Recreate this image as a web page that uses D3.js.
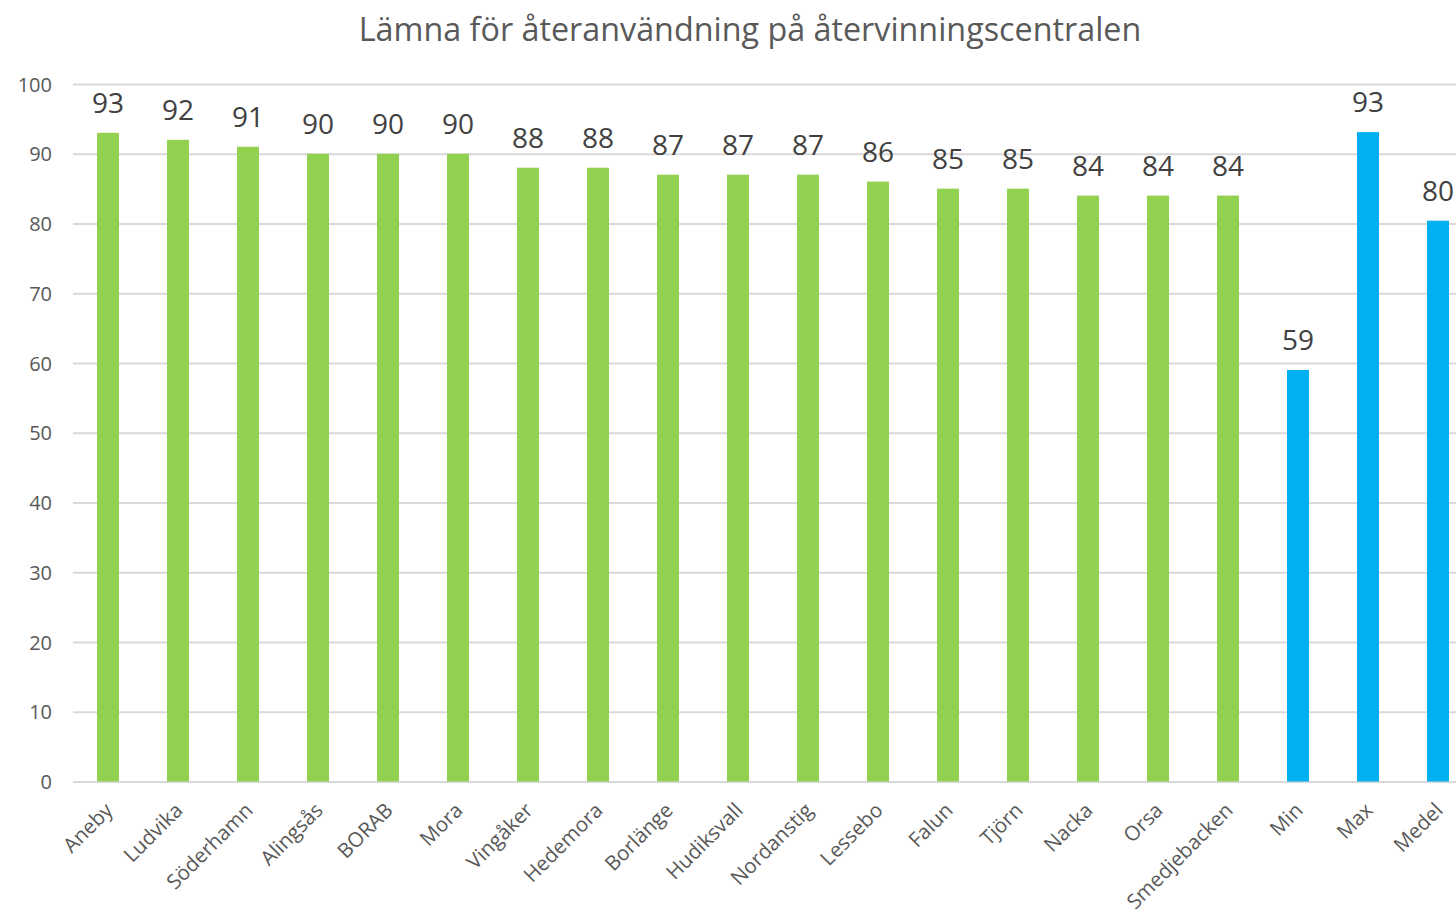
<!DOCTYPE html>
<html>
<head>
<meta charset="utf-8">
<title>Lämna för återanvändning</title>
<style>
  html, body { margin: 0; padding: 0; background: #fff; overflow: hidden; }
  svg { display: block; font-family: "Open Sans", sans-serif; }
  .grid line { stroke: #d9d9d9; stroke-width: 2px; }
  .grid .domain { display: none; }
  .yAxis text, .xAxis text { fill: #595959; font-family: "Open Sans", sans-serif; }
  .yAxis text { font-size: 20px; }
  .xAxis text { font-size: 20.5px; }
  .yAxis line, .yAxis .domain, .xAxis line, .xAxis .domain { display: none; }
  .label { fill: #404040; font-size: 28px; text-anchor: middle; }
  .title { fill: #595959; font-size: 32.3px; text-anchor: middle; }
</style>
<script src="https://cdn.jsdelivr.net/npm/d3@7"></script>
</head>
<body>
<div id="main"></div>
<script>
var categories = ["Aneby", "Ludvika", "Söderhamn", "Alingsås", "BORAB", "Mora", "Vingåker",
  "Hedemora", "Borlänge", "Hudiksvall", "Nordanstig", "Lessebo", "Falun", "Tjörn", "Nacka",
  "Orsa", "Smedjebacken", "Min", "Max", "Medel"];
var values = [93, 92, 91, 90, 90, 90, 88, 88, 87, 87, 87, 86, 85, 85, 84, 84, 84, 59, 93.1, 80.4];
var summaryCats = ["Min", "Max", "Medel"];
var yTicks = [0, 10, 20, 30, 40, 50, 60, 70, 80, 90, 100];

var width = 1456, height = 911;
var plotLeft = 73, plotBottom = 781.5, plotTop = 84;
var step = 70;

var svg = d3.select("#main").append("svg")
  .attr("width", width)
  .attr("height", height);

var x = d3.scaleBand()
  .domain(categories)
  .range([plotLeft, plotLeft + step * categories.length])
  .paddingInner(0.686)
  .paddingOuter(0.343);

var y = d3.scaleLinear().domain([0, 100]).range([plotBottom, plotTop]);

svg.append("g")
  .attr("class", "grid")
  .attr("transform", "translate(" + plotLeft + ",0)")
  .call(d3.axisLeft(y).tickValues(yTicks).tickSize(-(step * categories.length)).tickFormat(""));

svg.append("g")
  .attr("class", "yAxis")
  .attr("transform", "translate(52,0)")
  .call(d3.axisLeft(y).tickValues(yTicks).tickSize(0).tickPadding(0))
  .selectAll("text").attr("dy", "0.35em");

svg.selectAll("rect.bar")
  .data(categories)
  .enter()
  .append("rect")
  .attr("class", "bar")
  .attr("x", function(d) { return x(d); })
  .attr("width", x.bandwidth())
  .attr("y", function(d, i) { return y(values[i]); })
  .attr("height", function(d, i) { return plotBottom - y(values[i]); })
  .attr("fill", function(d) { return summaryCats.indexOf(d) >= 0 ? "#00b0f0" : "#92d050"; });

svg.selectAll("text.label")
  .data(categories)
  .enter()
  .append("text")
  .attr("class", "label")
  .attr("x", function(d) { return x(d) + x.bandwidth() / 2; })
  .attr("y", function(d, i) { return y(values[i]) - 20; })
  .text(function(d, i) { return Math.round(values[i]); });

svg.append("g")
  .attr("class", "xAxis")
  .attr("transform", "translate(0," + plotBottom + ")")
  .call(d3.axisBottom(x).tickSize(0))
  .selectAll("text")
  .attr("text-anchor", "end")
  .attr("dy", 0)
  .attr("transform", "translate(4,28) rotate(-45)");

svg.append("text")
  .attr("class", "title")
  .attr("x", 750)
  .attr("y", 41)
  .text("Lämna för återanvändning på återvinningscentralen");
</script>
</body>
</html>
